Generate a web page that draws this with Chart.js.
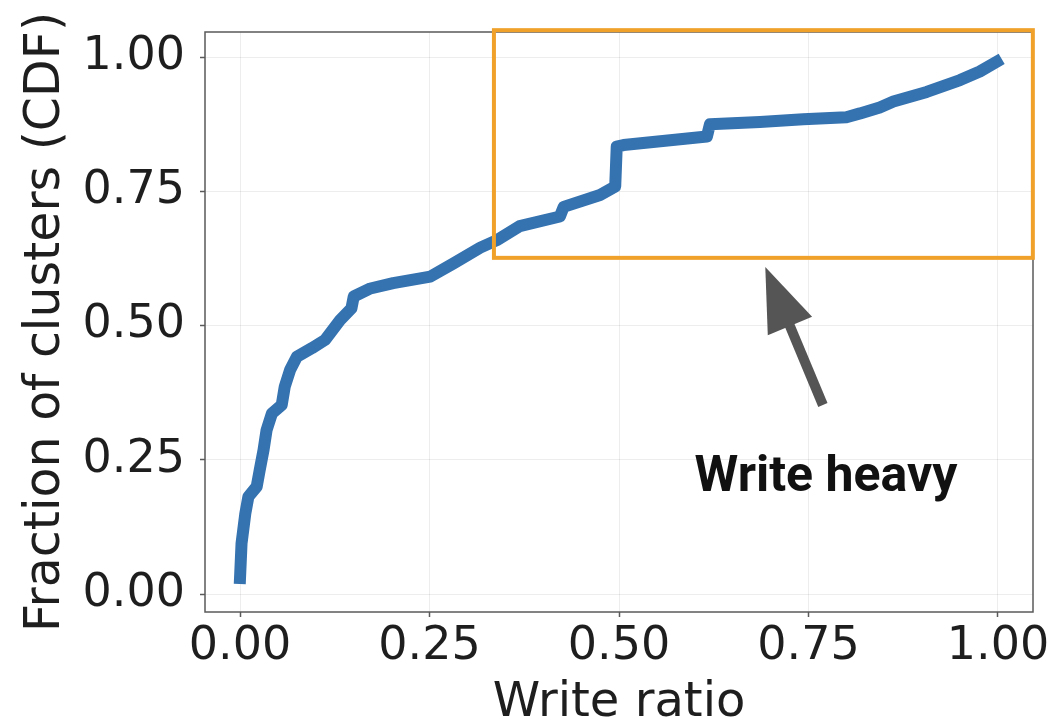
<!DOCTYPE html>
<html>
<head>
<meta charset="utf-8">
<script src="https://cdn.jsdelivr.net/npm/chart.js@4/dist/chart.umd.min.js"></script>
<style>
  html, body { margin: 0; padding: 0; background: #ffffff; }
  #wrap { width: 1056px; height: 724px; }
</style>
</head>
<body>
<div id="wrap"><canvas id="c" width="1056" height="724"></canvas></div>
<script>
// ---- data ----
const writeRatio = [0.000, 0.002, 0.007, 0.011, 0.022, 0.026, 0.031, 0.035, 0.042, 0.055,
  0.059, 0.066, 0.075, 0.095, 0.112, 0.132, 0.147, 0.150, 0.172, 0.202,
  0.251, 0.282, 0.317, 0.339, 0.369, 0.422, 0.427, 0.475, 0.495, 0.497,
  0.506, 0.616, 0.620, 0.686, 0.743, 0.800, 0.818, 0.844, 0.862, 0.906,
  0.950, 0.976, 0.998];
const cdfValues = [0.030, 0.094, 0.150, 0.181, 0.200, 0.231, 0.268, 0.305, 0.336, 0.352,
  0.386, 0.417, 0.442, 0.458, 0.473, 0.510, 0.532, 0.554, 0.569, 0.579,
  0.591, 0.616, 0.645, 0.659, 0.685, 0.703, 0.721, 0.743, 0.759, 0.833,
  0.836, 0.852, 0.875, 0.879, 0.884, 0.888, 0.895, 0.906, 0.917, 0.935,
  0.957, 0.973, 0.991];
const xTickValues = [0, 0.25, 0.5, 0.75, 1.0];
const yTickValues = [0, 0.25, 0.5, 0.75, 1.0];
const xTickLabels = ['0.00', '0.25', '0.50', '0.75', '1.00'];
const yTickLabels = ['0.00', '0.25', '0.50', '0.75', '1.00'];
const xTitle = 'Write ratio';
const yTitle = 'Fraction of clusters (CDF)';
const annotationText = 'Write heavy';

// ---- annotation geometry in data units ----
const highlightBox = { x0: 0.335, x1: 1.046, y0: 0.626, y1: 1.050 };
const arrowSpec = { tipX: 0.693, tipY: 0.609, tailX: 0.769, tailY: 0.352 };
const labelSpec = { x: 0.773, y: 0.192 };

const points = writeRatio.map((x, i) => ({ x: x, y: cdfValues[i] }));

const AXIS_COLOR = '#5a5a5a';
const GRID_COLOR = 'rgba(0,0,0,0.07)';
const TEXT_COLOR = '#1e1e1e';

const overlay = {
  id: 'overlay',
  afterDatasetsDraw(chart) {
    const { ctx, chartArea, scales } = chart;
    const xs = scales.x, ys = scales.y;
    ctx.save();
    // frame (spines)
    ctx.strokeStyle = AXIS_COLOR;
    ctx.lineWidth = 1.5;
    ctx.strokeRect(chartArea.left, chartArea.top, chartArea.right - chartArea.left, chartArea.bottom - chartArea.top);

    // highlight box
    const bx0 = xs.getPixelForValue(highlightBox.x0);
    const bx1 = xs.getPixelForValue(highlightBox.x1);
    const by0 = ys.getPixelForValue(highlightBox.y0);
    const by1 = ys.getPixelForValue(highlightBox.y1);
    ctx.strokeStyle = '#f0a12a';
    ctx.lineWidth = 4;
    ctx.strokeRect(bx0, by1, bx1 - bx0, by0 - by1);

    // arrow
    const tx = xs.getPixelForValue(arrowSpec.tipX), ty = ys.getPixelForValue(arrowSpec.tipY);
    const sx = xs.getPixelForValue(arrowSpec.tailX), sy = ys.getPixelForValue(arrowSpec.tailY);
    const dx = tx - sx, dy = ty - sy;
    const len = Math.hypot(dx, dy);
    const ux = dx / len, uy = dy / len;
    const headLen = 64, headHalf = 24;
    const bxm = tx - ux * headLen, bym = ty - uy * headLen;
    ctx.strokeStyle = '#555555';
    ctx.fillStyle = '#555555';
    ctx.lineWidth = 10;
    ctx.lineCap = 'butt';
    ctx.beginPath();
    ctx.moveTo(sx, sy);
    ctx.lineTo(bxm + ux * 4, bym + uy * 4);
    ctx.stroke();
    ctx.beginPath();
    ctx.moveTo(tx, ty);
    ctx.lineTo(bxm - uy * headHalf, bym + ux * headHalf);
    ctx.lineTo(bxm + uy * headHalf, bym - ux * headHalf);
    ctx.closePath();
    ctx.fill();

    // label
    ctx.fillStyle = '#111111';
    ctx.font = 'bold 50px Roboto';
    ctx.textAlign = 'center';
    ctx.textBaseline = 'alphabetic';
    ctx.fillText(annotationText, xs.getPixelForValue(labelSpec.x), ys.getPixelForValue(labelSpec.y));
    ctx.restore();
  }
};

new Chart(document.getElementById('c'), {
  type: 'scatter',
  data: {
    datasets: [{
      data: points,
      showLine: true,
      borderColor: '#3572b0',
      backgroundColor: '#3572b0',
      borderWidth: 12,
      borderCapStyle: 'square',
      borderJoinStyle: 'round',
      pointRadius: 0,
      pointHoverRadius: 0,
      tension: 0,
      clip: false
    }]
  },
  options: {
    responsive: false,
    animation: false,
    events: [],
    layout: { padding: { top: 32, right: 23, left: 0, bottom: 0 } },
    plugins: { legend: { display: false }, tooltip: { enabled: false }, title: { display: false } },
    scales: {
      x: {
        type: 'linear',
        min: -0.0462,
        max: 1.0462,
        afterBuildTicks: (s) => { s.ticks = xTickValues.map(v => ({ value: v })); },
        afterFit: (s) => { s.height = 112; s.paddingLeft = 0; s.paddingRight = 0; },
        ticks: {
          callback: (v) => { const i = xTickValues.indexOf(v); return i >= 0 ? xTickLabels[i] : ''; },
          font: { family: 'DejaVu Sans', size: 46, lineHeight: 1.0 },
          color: TEXT_COLOR,
          padding: 7,
          maxRotation: 0,
          autoSkip: false
        },
        grid: { color: GRID_COLOR, lineWidth: 1, tickColor: AXIS_COLOR, tickLength: 5, tickWidth: 1.5, drawTicks: true },
        border: { display: false },
        title: {
          display: true,
          text: xTitle,
          color: TEXT_COLOR,
          font: { family: 'DejaVu Sans', size: 48, lineHeight: 0.8 },
          padding: { top: 0, bottom: 1 }
        }
      },
      y: {
        type: 'linear',
        min: -0.0335,
        max: 1.0466,
        afterBuildTicks: (s) => { s.ticks = yTickValues.map(v => ({ value: v })); },
        afterFit: (s) => { s.width = 205; s.paddingTop = 0; s.paddingBottom = 0; },
        ticks: {
          callback: (v) => { const i = yTickValues.indexOf(v); return i >= 0 ? yTickLabels[i] : ''; },
          font: { family: 'DejaVu Sans', size: 46 },
          color: TEXT_COLOR,
          padding: 15,
          autoSkip: false
        },
        grid: { color: GRID_COLOR, lineWidth: 1, tickColor: AXIS_COLOR, tickLength: 5, tickWidth: 1.5, drawTicks: true },
        border: { display: false },
        title: {
          display: true,
          text: yTitle,
          color: TEXT_COLOR,
          font: { family: 'DejaVu Sans', size: 49, lineHeight: 1.2 },
          padding: { top: 17, bottom: 0 }
        }
      }
    }
  },
  plugins: [overlay]
});
</script>
</body>
</html>
